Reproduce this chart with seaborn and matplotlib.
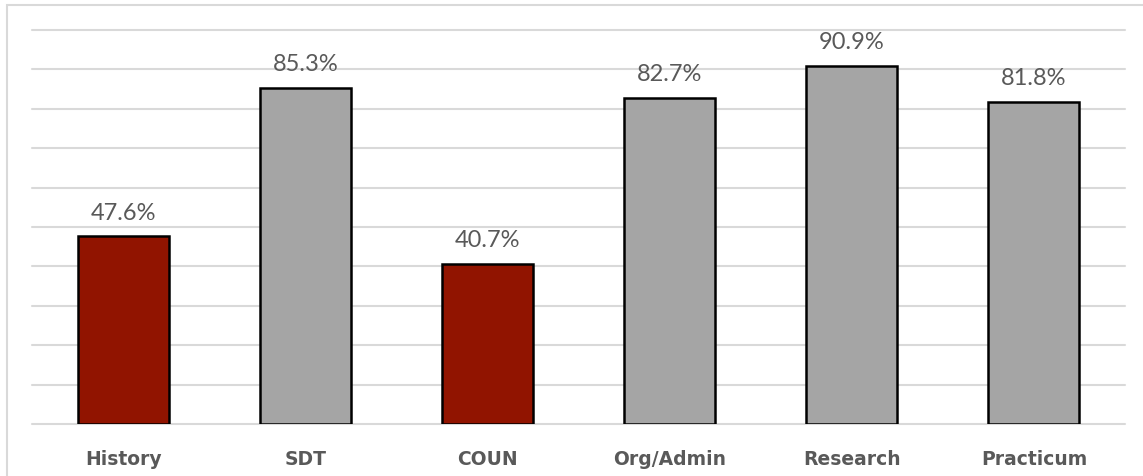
import matplotlib
matplotlib.use("Agg")
import matplotlib.pyplot as plt
from matplotlib.patches import Rectangle
import seaborn as sns
import pandas as pd

categories = ["History", "SDT", "COUN", "Org/Admin", "Research", "Practicum"]
values = [47.6, 85.3, 40.7, 82.7, 90.9, 81.8]
groups = ["low", "high", "low", "high", "high", "high"]
palette = {"low": "#911400", "high": "#A5A5A5"}

df = pd.DataFrame({"course": categories, "pct": values, "group": groups})

sns.set_theme(style="white")
plt.rcParams["font.family"] = ["Lato", "DejaVu Sans"]

W, H = 1143, 477
fig = plt.figure(figsize=(W / 100, H / 100), dpi=100)
ax = fig.add_axes([32 / W, (H - 425) / H, (1125 - 32) / W, (425 - 31) / H])

sns.barplot(data=df, x="course", y="pct", hue="group", palette=palette,
            dodge=False, width=0.5, edgecolor="black", linewidth=1.8,
            saturation=1, legend=False, ax=ax, zorder=3)

ax.set_ylim(0, 100)
ax.set_xlim(-0.5, len(categories) - 0.5)
ax.set_yticks(range(0, 101, 10))
ax.yaxis.grid(True, color="#D9D9D9", linewidth=1.5, zorder=0)
for gl in ax.yaxis.get_gridlines():
    gl.set_clip_on(False)
ax.set_axisbelow(True)
ax.tick_params(axis="y", left=False, labelleft=False)
ax.tick_params(axis="x", bottom=False, pad=12)
for lbl in ax.get_xticklabels():
    lbl.set_fontfamily("DejaVu Sans")
    lbl.set_fontweight("bold")
    lbl.set_fontsize(13.5)
    lbl.set_color("#595959")
for s in ax.spines.values():
    s.set_visible(False)
ax.set_xlabel("")
ax.set_ylabel("")

for i, v in enumerate(values):
    ax.annotate(f"{v:.1f}%", (i, v), xytext=(0, 10), textcoords="offset points",
                ha="center", va="bottom", fontsize=17, color="#595959",
                fontfamily="Lato", fontweight="normal")

# light frame around the chart area
fig.patches.append(Rectangle((7 / W, -0.1), 1.2, (H - 6) / H + 0.1,
                             transform=fig.transFigure, fill=False,
                             edgecolor="#D9D9D9", linewidth=1.5))

fig.savefig("out.png", dpi=100)
